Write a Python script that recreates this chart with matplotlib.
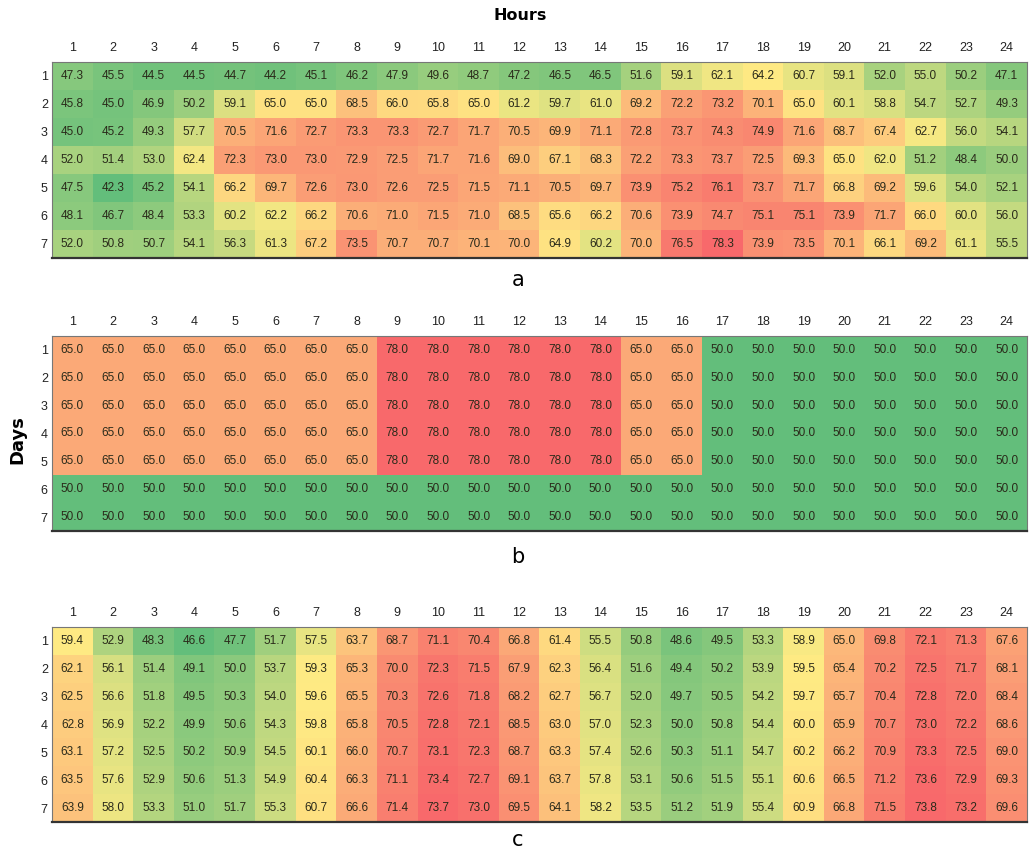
import numpy as np
import matplotlib
matplotlib.use("Agg")
import matplotlib.pyplot as plt
from matplotlib.colors import LinearSegmentedColormap, TwoSlopeNorm

# Horas y días
hours = [str(h) for h in range(1, 25)]
days = [str(d) for d in range(1, 8)]

# Panel a
temp_a = [
    [47.3, 45.5, 44.5, 44.5, 44.7, 44.2, 45.1, 46.2, 47.9, 49.6, 48.7, 47.2, 46.5, 46.5, 51.6, 59.1, 62.1, 64.2, 60.7, 59.1, 52.0, 55.0, 50.2, 47.1],
    [45.8, 45.0, 46.9, 50.2, 59.1, 65.0, 65.0, 68.5, 66.0, 65.8, 65.0, 61.2, 59.7, 61.0, 69.2, 72.2, 73.2, 70.1, 65.0, 60.1, 58.8, 54.7, 52.7, 49.3],
    [45.0, 45.2, 49.3, 57.7, 70.5, 71.6, 72.7, 73.3, 73.3, 72.7, 71.7, 70.5, 69.9, 71.1, 72.8, 73.7, 74.3, 74.9, 71.6, 68.7, 67.4, 62.7, 56.0, 54.1],
    [52.0, 51.4, 53.0, 62.4, 72.3, 73.0, 73.0, 72.9, 72.5, 71.7, 71.6, 69.0, 67.1, 68.3, 72.2, 73.3, 73.7, 72.5, 69.3, 65.0, 62.0, 51.2, 48.4, 50.0],
    [47.5, 42.3, 45.2, 54.1, 66.2, 69.7, 72.6, 73.0, 72.6, 72.5, 71.5, 71.1, 70.5, 69.7, 73.9, 75.2, 76.1, 73.7, 71.7, 66.8, 69.2, 59.6, 54.0, 52.1],
    [48.1, 46.7, 48.4, 53.3, 60.2, 62.2, 66.2, 70.6, 71.0, 71.5, 71.0, 68.5, 65.6, 66.2, 70.6, 73.9, 74.7, 75.1, 75.1, 73.9, 71.7, 66.0, 60.0, 56.0],
    [52.0, 50.8, 50.7, 54.1, 56.3, 61.3, 67.2, 73.5, 70.7, 70.7, 70.1, 70.0, 64.9, 60.2, 70.0, 76.5, 78.3, 73.9, 73.5, 70.1, 66.1, 69.2, 61.1, 55.5],
]

# Panel b: horario fijo (laborables) y fin de semana
weekday_b = [65.0] * 8 + [78.0] * 6 + [65.0] * 2 + [50.0] * 8
weekend_b = [50.0] * 24
temp_b = [weekday_b] * 5 + [weekend_b] * 2

# Panel c
temp_c = [
    [59.4, 52.9, 48.3, 46.6, 47.7, 51.7, 57.5, 63.7, 68.7, 71.1, 70.4, 66.8, 61.4, 55.5, 50.8, 48.6, 49.5, 53.3, 58.9, 65.0, 69.8, 72.1, 71.3, 67.6],
    [62.1, 56.1, 51.4, 49.1, 50.0, 53.7, 59.3, 65.3, 70.0, 72.3, 71.5, 67.9, 62.3, 56.4, 51.6, 49.4, 50.2, 53.9, 59.5, 65.4, 70.2, 72.5, 71.7, 68.1],
    [62.5, 56.6, 51.8, 49.5, 50.3, 54.0, 59.6, 65.5, 70.3, 72.6, 71.8, 68.2, 62.7, 56.7, 52.0, 49.7, 50.5, 54.2, 59.7, 65.7, 70.4, 72.8, 72.0, 68.4],
    [62.8, 56.9, 52.2, 49.9, 50.6, 54.3, 59.8, 65.8, 70.5, 72.8, 72.1, 68.5, 63.0, 57.0, 52.3, 50.0, 50.8, 54.4, 60.0, 65.9, 70.7, 73.0, 72.2, 68.6],
    [63.1, 57.2, 52.5, 50.2, 50.9, 54.5, 60.1, 66.0, 70.7, 73.1, 72.3, 68.7, 63.3, 57.4, 52.6, 50.3, 51.1, 54.7, 60.2, 66.2, 70.9, 73.3, 72.5, 69.0],
    [63.5, 57.6, 52.9, 50.6, 51.3, 54.9, 60.4, 66.3, 71.1, 73.4, 72.7, 69.1, 63.7, 57.8, 53.1, 50.6, 51.5, 55.1, 60.6, 66.5, 71.2, 73.6, 72.9, 69.3],
    [63.9, 58.0, 53.3, 51.0, 51.7, 55.3, 60.7, 66.6, 71.4, 73.7, 73.0, 69.5, 64.1, 58.2, 53.5, 51.2, 51.9, 55.4, 60.9, 66.8, 71.5, 73.8, 73.2, 69.6],
]

# Escala verde - amarillo - rojo
cmap = LinearSegmentedColormap.from_list("gyr", ["#63BE7B", "#FFEB84", "#F8696B"])

W, H = 1033, 852
fig = plt.figure(figsize=(W / 100, H / 100), dpi=100)

txt_font = 'Liberation Sans'


def panel(top_px, bottom_px, data, vcenter, letter, letter_y):
    data = np.array(data)
    ax = fig.add_axes([52 / W, 1 - bottom_px / H, (1027 - 52) / W, (bottom_px - top_px) / H])
    norm = TwoSlopeNorm(vmin=data.min(), vcenter=vcenter, vmax=data.max())
    ax.imshow(data, cmap=cmap, norm=norm, aspect='auto', interpolation='nearest')
    for i in range(data.shape[0]):
        for j in range(data.shape[1]):
            ax.text(j, i, f"{data[i, j]:.1f}", ha='center', va='center',
                    fontsize=8.5, color='#2a2a1a', family=txt_font)
    ax.set_xticks(range(len(hours)))
    ax.set_xticklabels(hours, family=txt_font, fontsize=9, color='#222222')
    ax.set_yticks(range(len(days)))
    ax.set_yticklabels(days, family=txt_font, fontsize=9, color='#222222')
    ax.xaxis.tick_top()
    ax.tick_params(axis='x', length=0, pad=6)
    ax.tick_params(axis='y', length=0, pad=3)
    for s in ax.spines.values():
        s.set_color('#777777')
        s.set_linewidth(0.8)
    ax.spines['bottom'].set_linewidth(1.6)
    ax.spines['bottom'].set_color('#333333')
    fig.text(518 / W, 1 - letter_y / H, letter, ha='center', va='center', fontsize=15)
    return ax


panel(62, 258, temp_a, 64, "a", 280)
panel(336, 531, temp_b, 52, "b", 557)
panel(627, 822, temp_c, 59.5, "c", 840)

fig.text(520 / W, 1 - 16 / H, "Hours", ha='center', va='center', fontsize=11.5, fontweight='bold')
fig.text(17 / W, 1 - 440 / H, "Days", ha='center', va='center', fontsize=13, fontweight='bold', rotation=90)

fig.savefig("out.png", dpi=100)
